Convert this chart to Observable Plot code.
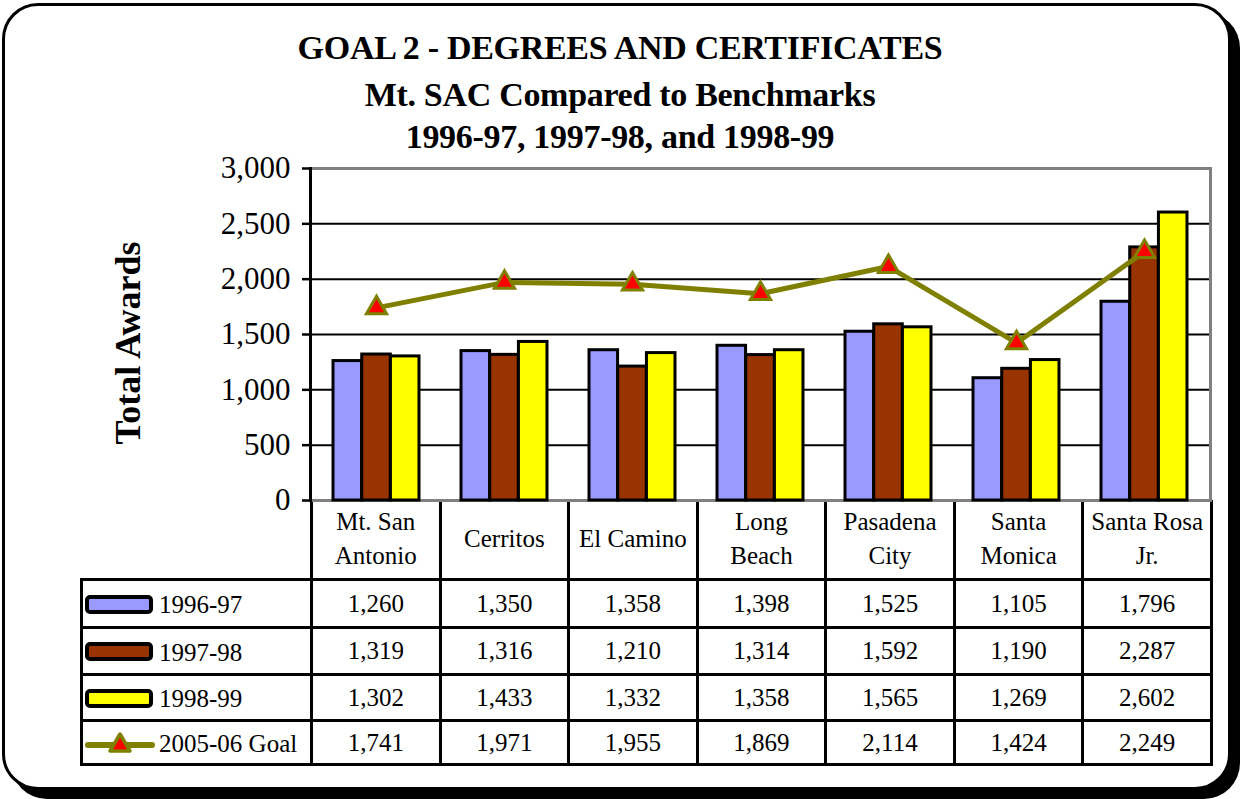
<!DOCTYPE html>
<html>
<head>
<meta charset="utf-8">
<script src="https://cdn.jsdelivr.net/npm/d3@7"></script>
<script src="https://cdn.jsdelivr.net/npm/@observablehq/plot@0.6"></script>
<style>
  body { margin:0; width:1241px; height:799px; position:relative; overflow:hidden; background:#fff; font-family:"Liberation Serif", serif; }
  #box { position:absolute; left:2px; top:3px; width:1229px; height:787px; box-sizing:border-box; border:3px solid #000; border-radius:36px; box-shadow:9px 9px 0 #000; background:#fff; }
  .title { position:absolute; left:0; width:1240px; text-align:center; font-weight:bold; font-size:34px; line-height:34px; color:#000; white-space:nowrap; letter-spacing:-0.3px; }
  #ytitle { position:absolute; width:300px; left:-22px; top:325px; height:36px; line-height:36px; text-align:center; font-weight:bold; font-size:36px; transform:rotate(-90deg); transform-origin:center; white-space:nowrap; }
  #chart { position:absolute; left:0; top:0; }
  table { position:absolute; left:80px; top:500px; border-collapse:collapse; table-layout:fixed; font-size:25px; color:#000; }
  td { border:3px solid #000; text-align:center; vertical-align:middle; padding:0; line-height:29px; white-space:nowrap; }
  tr.hdr td { line-height:34px; }
  td.leg { text-align:left; padding-left:2px; }
  td.leg svg { vertical-align:middle; margin-right:4px; }
  td.leg span { vertical-align:middle; }
</style>
</head>
<body>
<div id="box"></div>
<div class="title" style="top:31px">GOAL 2 - DEGREES AND CERTIFICATES</div>
<div class="title" style="top:78px">Mt. SAC Compared to Benchmarks</div>
<div class="title" style="top:120px">1996-97, 1997-98, and 1998-99</div>
<div id="ytitle">Total Awards</div>
<table id="tbl"></table>
<div id="chart"></div>
<script>
// ---- data ----
const categories = ["Mt. San Antonio", "Cerritos", "El Camino", "Long Beach", "Pasadena City", "Santa Monica", "Santa Rosa Jr."];
const categoryLabels = ["Mt. San\nAntonio", "Cerritos", "El Camino", "Long\nBeach", "Pasadena\nCity", "Santa\nMonica", "Santa Rosa\nJr."];
const seriesNames = ["1996-97", "1997-98", "1998-99", "2005-06 Goal"];
const values9697 = [1260, 1350, 1358, 1398, 1525, 1105, 1796];
const values9798 = [1319, 1316, 1210, 1314, 1592, 1190, 2287];
const values9899 = [1302, 1433, 1332, 1358, 1565, 1269, 2602];
const goal0506   = [1741, 1971, 1955, 1869, 2114, 1424, 2249];
const yTicks = [0, 500, 1000, 1500, 2000, 2500, 3000];
const gridTicks = [500, 1000, 1500, 2000, 2500];

// ---- styles ----
const barColors = ["#9999FF", "#993300", "#FFFF00"];
const goalColor = "#808000";

const toRows = (vals) => categories.map((c, i) => ({category: c, value: vals[i]}));
const s1 = toRows(values9697), s2 = toRows(values9798), s3 = toRows(values9899), sg = toRows(goal0506);

// geometry
const W = 1241, marginLeft = 310, marginRight = 31;
const pInner = 0.33;
const step = (W - marginLeft - marginRight) / categories.length;
const third = step * (1 - pInner) / 3;

const chart = Plot.plot({
  width: W, height: 505,
  marginTop: 168, marginBottom: 5, marginLeft, marginRight,
  style: {fontFamily: "'Liberation Serif', serif", fontSize: "30px", color: "#000", background: "transparent", overflow: "visible"},
  x: {type: "band", domain: categories, paddingInner: pInner, paddingOuter: pInner / 2, axis: null},
  y: {domain: [0, 3000], axis: null},
  marks: [
    Plot.ruleY(gridTicks, {stroke: "#000", strokeWidth: 2}),
    Plot.frame({stroke: "#808080", strokeWidth: 3}),
    Plot.barY(s1, {x: "category", y: "value", fill: barColors[0], stroke: "#000", strokeWidth: 3, insetRight: 2 * third}),
    Plot.barY(s2, {x: "category", y: "value", fill: barColors[1], stroke: "#000", strokeWidth: 3, insetLeft: third, insetRight: third}),
    Plot.barY(s3, {x: "category", y: "value", fill: barColors[2], stroke: "#000", strokeWidth: 3, insetLeft: 2 * third}),
    Plot.line(sg, {x: "category", y: "value", stroke: goalColor, strokeWidth: 5}),
    Plot.dot(sg, {x: "category", y: "value", symbol: "triangle", r: 7.5, fill: "#FF0000", stroke: goalColor, strokeWidth: 3}),
    Plot.axisY({ticks: yTicks, tickFormat: d3.format(","), tickSize: 8, tickPadding: 12, strokeWidth: 2.5, fontSize: 31, label: null}),
    Plot.frame({anchor: "left", stroke: "#000", strokeWidth: 3})
  ]
});
document.getElementById("chart").appendChild(chart);

// ---- data table ----
const fmt = d3.format(",");
const tbl = document.getElementById("tbl");
const colg = document.createElement("colgroup");
[230, ...categories.map(() => step)].forEach(w => { const c = document.createElement("col"); c.style.width = w + "px"; colg.appendChild(c); });
tbl.appendChild(colg);

const hdr = document.createElement("tr");
hdr.className = "hdr";
hdr.style.height = "79px";
const corner = document.createElement("td");
corner.style.borderTop = "none"; corner.style.borderLeft = "none";
hdr.appendChild(corner);
categoryLabels.forEach(l => {
  const td = document.createElement("td");
  td.style.borderTop = "none";
  td.innerHTML = l.split("\n").join("<br>");
  hdr.appendChild(td);
});
tbl.appendChild(hdr);

function swatch(i) {
  if (i < 3) {
    return `<svg width="70" height="23"><rect x="2" y="4" width="64" height="15" rx="3" fill="${barColors[i]}" stroke="#000" stroke-width="4"/></svg>`;
  }
  return `<svg width="70" height="26"><line x1="3" y1="15" x2="67" y2="15" stroke="${goalColor}" stroke-width="6" stroke-linecap="round"/><path d="M35,4 L45,21 L25,21 Z" fill="#FF0000" stroke="${goalColor}" stroke-width="3.5" stroke-linejoin="round"/></svg>`;
}
const allVals = [values9697, values9798, values9899, goal0506];
const rowHeights = [48, 47, 46, 44];
seriesNames.forEach((name, i) => {
  const tr = document.createElement("tr");
  tr.style.height = rowHeights[i] + "px";
  const lg = document.createElement("td");
  lg.className = "leg";
  lg.innerHTML = swatch(i) + `<span>${name}</span>`;
  tr.appendChild(lg);
  allVals[i].forEach(v => {
    const td = document.createElement("td");
    td.textContent = fmt(v);
    tr.appendChild(td);
  });
  tbl.appendChild(tr);
});
</script>
</body>
</html>
